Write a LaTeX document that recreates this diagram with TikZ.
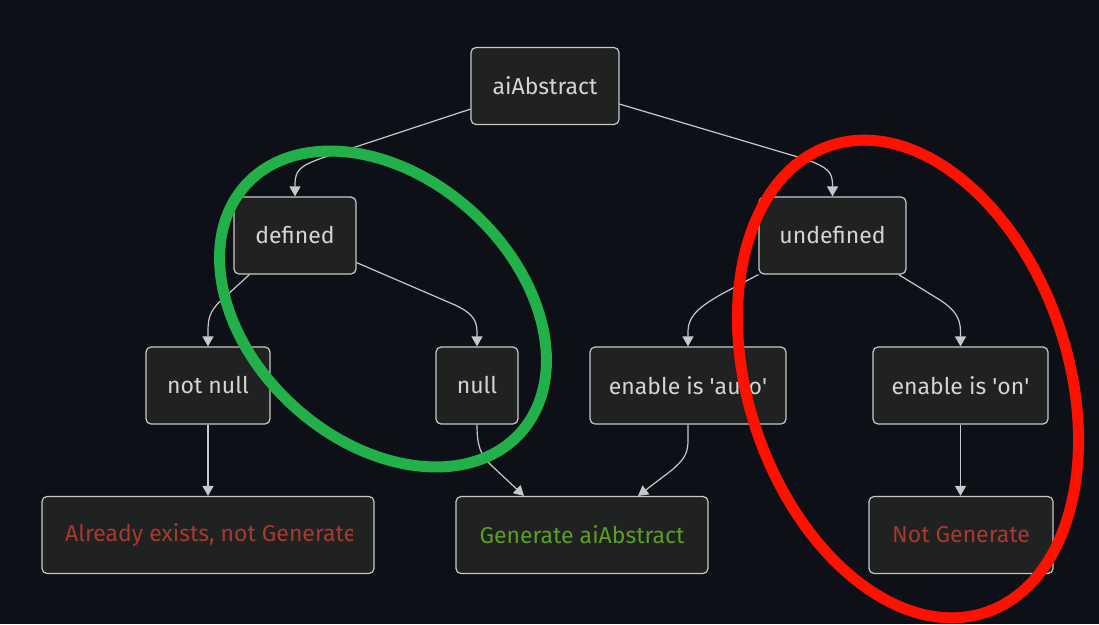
\documentclass[tikz,border=0pt]{standalone}
\usepackage{fontspec}
\setmainfont{Fira Sans}
\usetikzlibrary{arrows.meta,calc}
\definecolor{bg}{HTML}{0D1117}
\definecolor{nodefill}{HTML}{202121}
\definecolor{nodeline}{HTML}{C8C8C8}
\definecolor{txt}{HTML}{D4D4D4}
\definecolor{redtxt}{HTML}{A63A2E}
\definecolor{greentxt}{HTML}{5AA020}
\definecolor{greenring}{HTML}{22B04B}
\definecolor{redring}{HTML}{FF1100}
\begin{document}
\begin{tikzpicture}[x=1pt,y=-1pt,
  box/.style={draw=nodeline, fill=nodefill, rounded corners=5pt, line width=1.2pt,
    text=txt, font=\fontsize{23}{27}\selectfont, inner sep=0pt, minimum height=77pt},
  edge/.style={draw=nodeline, line width=1.2pt, -{Triangle[width=11pt,length=10pt]}},
  ring/.style={line width=11pt}]
\fill[bg] (0,0) rectangle (1099,624);
\useasboundingbox (0,0) rectangle (1099,624);
% nodes
\node[box, minimum width=148pt] (ai) at (545,86) {aiAbstract};
\node[box, minimum width=122pt] (def) at (295,235.5) {defined};
\node[box, minimum width=147pt] (undef) at (832.5,235.5) {undefined};
\node[box, minimum width=124pt] (nn) at (208,385.5) {not null};
\node[box, minimum width=82pt] (null) at (477,385.5) {null};
\node[box, minimum width=196pt] (auto) at (688,385.5) {enable is \textquotesingle auto\textquotesingle};
\node[box, minimum width=175pt] (on) at (960.5,385.5) {enable is \textquotesingle on\textquotesingle};
\node[box, minimum width=332pt] (exists) at (208,535) {};
\begin{scope}
  \clip (60,500) rectangle (352,570);
  \node[anchor=west, text=redtxt, font=\fontsize{23}{27}\selectfont, inner sep=0pt] (existstxt) at (65,535) {Already exists, not Generate};
\end{scope}
\node[box, minimum width=252pt, text=greentxt] (gen) at (582,535) {Generate aiAbstract};
\node[box, minimum width=184pt, text=redtxt] (notgen) at (961,535) {Not Generate};
% edges
\draw[edge] ([yshift=16pt]ai.south west) -- (322,158) .. controls (300,166) and (295,170) .. (295,185) -- (def.north);
\draw[edge] ([yshift=21pt]ai.south east) -- (808,160) .. controls (828,168) and (832.5,172) .. (832.5,185) -- (undef.north);
\draw[edge] ([xshift=16pt]def.south west) -- (225,297) .. controls (212,308) and (208,315) .. (208,330) -- (nn.north);
\draw[edge] ([yshift=12pt]def.south east) -- (455,305) .. controls (472,313) and (477,320) .. (477,332) -- (null.north);
\draw[edge] (undef.south west) -- (735,287) .. controls (700,305) and (688,315) .. (688,332) -- (auto.north);
\draw[edge] ([xshift=-8pt]undef.south east) -- (940,300) .. controls (955,310) and (960.5,318) .. (960.5,332) -- (on.north);
\draw[edge] (nn.south) -- (exists.north);
\draw[edge] (null.south) .. controls (477,445) and (480,455) .. (492,466) -- ([xshift=-58pt]gen.north);
\draw[edge] (auto.south) -- (688,440) .. controls (688,455) and (683,460) .. (672,470) -- ([xshift=56pt]gen.north);
\draw[edge] (on.south) -- (on.south |- notgen.north);
% highlight rings
\draw[ring, draw=greenring] (383,309) ellipse [x radius=185pt, y radius=132pt, rotate=-42];
\draw[ring, draw=redring] (908,379) ellipse [x radius=246pt, y radius=160pt, rotate=-71.6];
\end{tikzpicture}
\end{document}
